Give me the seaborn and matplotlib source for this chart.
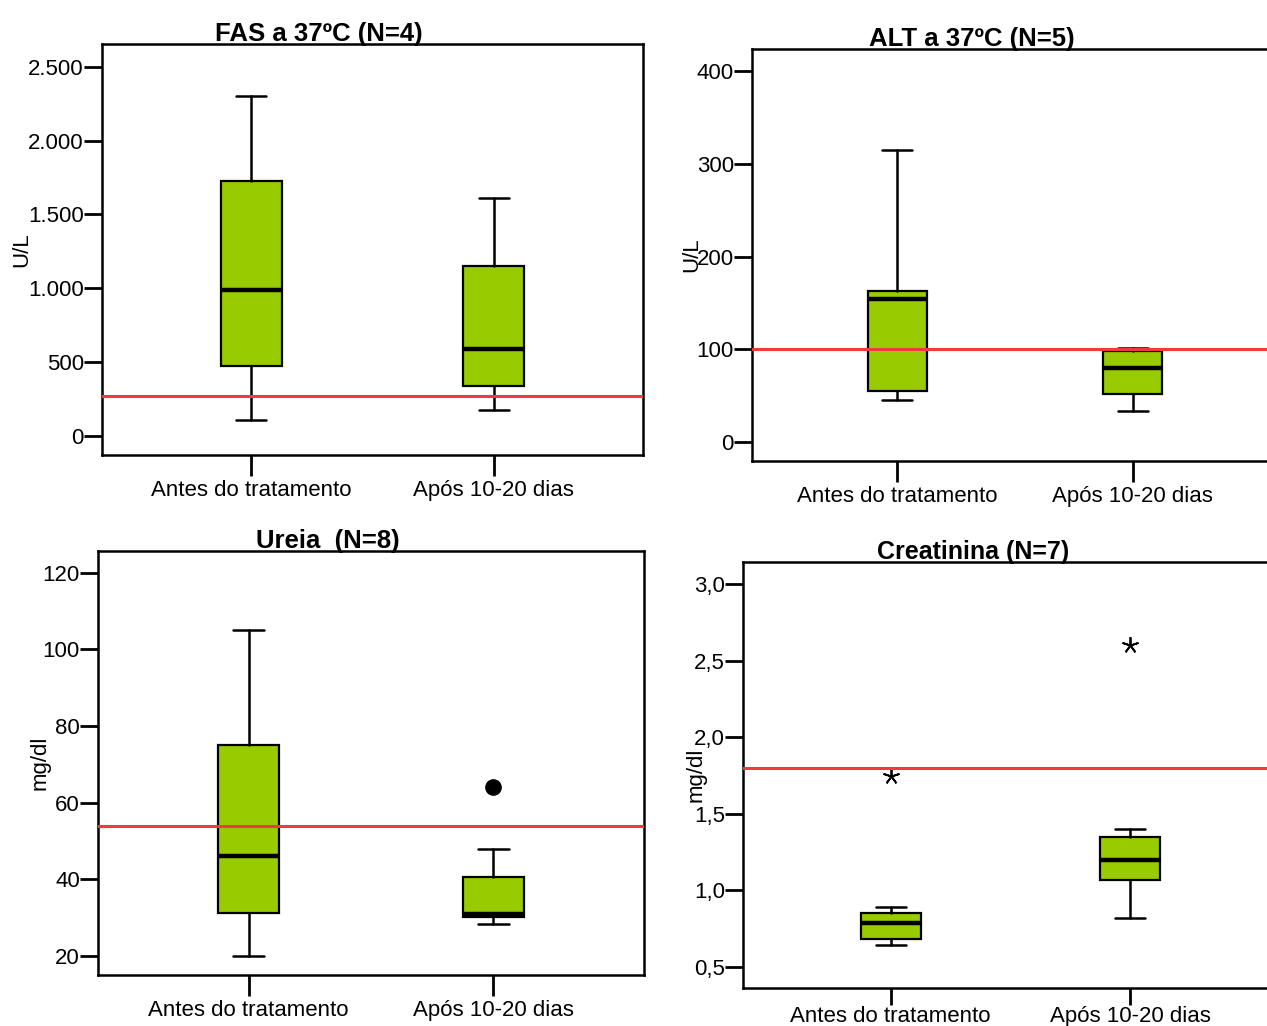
import numpy as np
import matplotlib
matplotlib.use("Agg")
import matplotlib.pyplot as plt
import seaborn as sns

sns.set_theme(style="ticks")
plt.rcParams['font.family'] = ['Liberation Sans', 'DejaVu Sans']
plt.rcParams['text.color'] = 'black'
plt.rcParams['xtick.labelcolor'] = 'black'
plt.rcParams['ytick.labelcolor'] = 'black'

grupos = ["Antes do tratamento", "Após 10-20 dias"]

# estatisticas: minimo, Q1, mediana, Q3, maximo
fas_min = [105, 176]
fas_q1 = [474, 339]
fas_med = [985, 590]
fas_q3 = [1728, 1152]
fas_max = [2303, 1612]
fas_ref = 270

alt_min = [45, 33]
alt_q1 = [55, 52]
alt_med = [154, 80]
alt_q3 = [163, 98]
alt_max = [315, 101]
alt_ref = 100

ureia_min = [20, 28.3]
ureia_q1 = [31.2, 30.2]
ureia_med = [46, 31]
ureia_q3 = [75, 40.5]
ureia_max = [105, 48]
ureia_out = [[], [64]]
ureia_ref = 54

creat_min = [0.645, 0.82]
creat_q1 = [0.685, 1.07]
creat_med = [0.79, 1.20]
creat_q3 = [0.855, 1.35]
creat_max = [0.89, 1.40]
creat_out = [[1.75], [2.60]]
creat_ref = 1.80

fas_ticks = [0, 500, 1000, 1500, 2000, 2500]
fas_labels = ["0", "500", "1.000", "1.500", "2.000", "2.500"]
alt_ticks = [0, 100, 200, 300, 400]
alt_labels = ["0", "100", "200", "300", "400"]
ureia_ticks = [20, 40, 60, 80, 100, 120]
ureia_labels = ["20", "40", "60", "80", "100", "120"]
creat_ticks = [0.5, 1.0, 1.5, 2.0, 2.5, 3.0]
creat_labels = ["0,5", "1,0", "1,5", "2,0", "2,5", "3,0"]

verde = "#99CC00"
vermelho = "#EE3B40"

W, H = 1267, 1026
fig = plt.figure(figsize=(W / 100, H / 100), dpi=100)


def eixo(left, top, width, bottom):
    return fig.add_axes([left / W, 1 - bottom / H, width / W, (bottom - top) / H])


def painel(ax, mins, q1s, meds, q3s, maxs, outs, ref, ticks, labels, ylim,
           titulo, tx, ylab, lx, marcador, xlen=15, xpad=3, tsize=18.5):
    stats = []
    for i in range(len(grupos)):
        stats.append(dict(whislo=mins[i], q1=q1s[i], med=meds[i], q3=q3s[i],
                          whishi=maxs[i], fliers=outs[i] if outs else []))
    ax.bxp(stats, positions=[0, 1], widths=0.25, patch_artist=True,
           showfliers=True, capwidths=0.125,
           boxprops=dict(facecolor=verde, edgecolor="black", linewidth=1.6),
           medianprops=dict(color="black", linewidth=3.2),
           whiskerprops=dict(color="black", linewidth=1.8),
           capprops=dict(color="black", linewidth=1.8),
           flierprops=marcador)
    # linha de referencia por cima das caixas
    ax.axhline(ref, color=vermelho, lw=2.2, zorder=5)
    ax.set_xlim(-0.615, 1.615)
    ax.set_ylim(*ylim)
    ax.set_xticks([0, 1])
    ax.set_xticklabels(grupos, fontsize=16)
    ax.set_yticks(ticks)
    ax.set_yticklabels(labels, fontsize=16)
    ax.tick_params(axis="y", direction="out", length=13, width=2, pad=0,
                   color="black")
    ax.tick_params(axis="x", direction="out", length=xlen, width=2, pad=xpad,
                   color="black")
    for s in ax.spines.values():
        s.set_linewidth(1.8)
        s.set_color("black")
        s.set_visible(True)
    ax.set_facecolor("white")
    ax.text(tx, 0.995, titulo, transform=ax.transAxes, ha="center", va="bottom",
            fontsize=tsize, fontweight="bold")
    ax.text(lx, 0.5, ylab, transform=ax.transAxes, rotation=90, ha="center",
            va="center", fontsize=16)


circulo = dict(marker="o", markerfacecolor="black", markeredgecolor="black",
               markersize=11)
estrela = dict(marker=(5, 2, 0), markerfacecolor="black",
               markeredgecolor="black", markersize=12, markeredgewidth=1.3)

ax1 = eixo(102, 44, 541, 455)
painel(ax1, fas_min, fas_q1, fas_med, fas_q3, fas_max, None, fas_ref,
       fas_ticks, fas_labels, (-130, 2655), "FAS a 37ºC (N=4)", 0.40,
       "U/L", -0.148, circulo)

ax2 = eixo(752, 49, 526, 461)
painel(ax2, alt_min, alt_q1, alt_med, alt_q3, alt_max, None, alt_ref,
       alt_ticks, alt_labels, (-20.5, 424), "ALT a 37ºC (N=5)", 0.418,
       "U/L", -0.114, circulo)

ax3 = eixo(98, 551, 546, 975)
painel(ax3, ureia_min, ureia_q1, ureia_med, ureia_q3, ureia_max, ureia_out,
       ureia_ref, ureia_ticks, ureia_labels, (15.0, 125.7), "Ureia  (N=8)",
       0.42, "mg/dl", -0.106, circulo)

ax4 = eixo(743, 562, 535, 988)
painel(ax4, creat_min, creat_q1, creat_med, creat_q3, creat_max, creat_out,
       creat_ref, creat_ticks, creat_labels, (0.363, 3.144),
       "Creatinina (N=7)", 0.43, "mg/dl", -0.088, estrela, xlen=12, xpad=1,
       tsize=18)

fig.savefig("out.png", dpi=100)
